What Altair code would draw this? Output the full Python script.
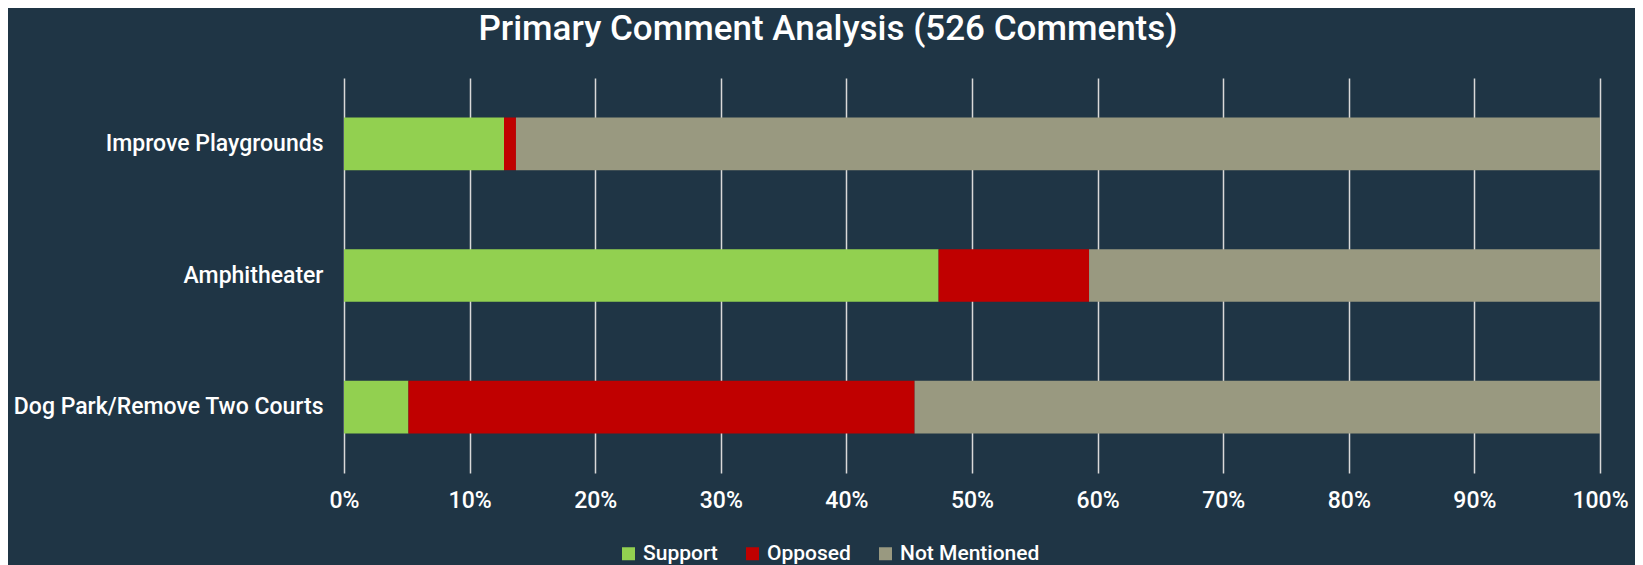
import altair as alt
import pandas as pd

categories = ["Improve Playgrounds", "Amphitheater", "Dog Park/Remove Two Courts"]
series = ["Support", "Opposed", "Not Mentioned"]
support = [0.1274, 0.4734, 0.0513]
opposed = [0.0095, 0.1198, 0.4030]
not_mentioned = [0.8631, 0.4068, 0.5457]
colors = ["#92D050", "#C00000", "#999980"]

rows = []
for i, c in enumerate(categories):
    for j, (s, vals) in enumerate(zip(series, [support, opposed, not_mentioned])):
        rows.append({"category": c, "series": s, "value": vals[i], "order": j})
df = pd.DataFrame(rows)

FONT = "Roboto"
BG = "#1F3545"

chart = alt.Chart(df).mark_bar().encode(
    y=alt.Y("category:N", sort=categories, title=None,
            scale=alt.Scale(paddingInner=0.6, paddingOuter=0.3),
            axis=alt.Axis(domain=False, ticks=False, labelPadding=21,
                          labelFontSize=23, labelFontWeight=500,
                          labelColor="#FFFFFF", labelFont=FONT, labelLimit=400)),
    x=alt.X("value:Q", stack="zero", title=None,
            scale=alt.Scale(domain=[0, 1], nice=False),
            axis=alt.Axis(format=".0%", values=[i / 10 for i in range(11)],
                          domain=False, ticks=False, grid=True, gridColor="#D9D9D9",
                          gridWidth=1.5, labelPadding=16, labelFontSize=23,
                          labelFontWeight=500,
                          labelColor="#FFFFFF", labelFont=FONT, labelFlush=False)),
    color=alt.Color("series:N", sort=series,
                    scale=alt.Scale(domain=series, range=colors),
                    legend=alt.Legend(title=None, orient="none", direction="horizontal",
                                      legendX=274, legendY=465, symbolType="square",
                                      symbolSize=169, symbolStrokeWidth=0, symbolOpacity=1,
                                      labelFontSize=21, labelFontWeight=500,
                                      labelColor="#FFFFFF", labelFont=FONT,
                                      labelOffset=4, columnPadding=24, padding=0)),
    order=alt.Order("order:Q"),
).properties(
    width=1256,
    height=395,
    title=alt.Title("Primary Comment Analysis (526 Comments)", anchor="middle",
                    frame="group", fontSize=35, fontWeight=500, color="#FFFFFF",
                    font=FONT, offset=31, dx=-144),
    background=BG,
    padding={"left": 336, "top": 70, "right": 35, "bottom": 110},
    autosize=alt.AutoSizeParams(type="none"),
).configure_view(stroke=None)

chart.save("out.html", embed_options={"renderer": "svg", "actions": False})
